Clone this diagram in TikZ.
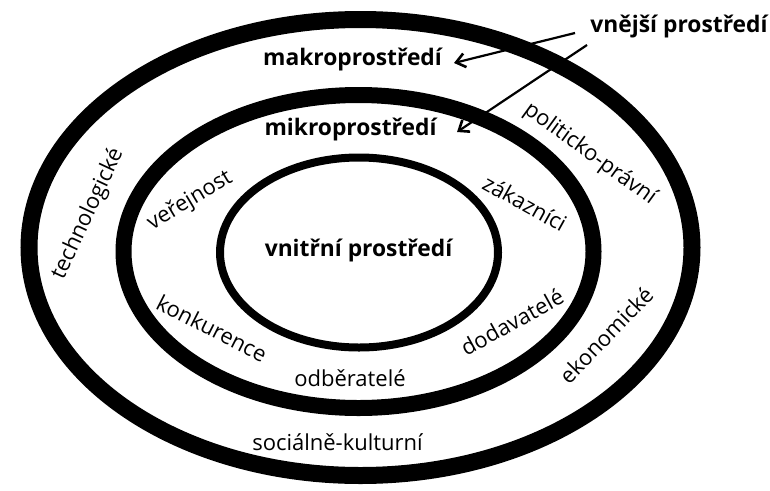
\documentclass[tikz,border=0pt]{standalone}
\usepackage{fontspec}
\setmainfont{Open Sans}
\usetikzlibrary{arrows.meta}
\begin{document}
\begin{tikzpicture}[x=1pt,y=-1pt,
  ring/.style={draw=black},
  bold/.style={font=\fontsize{22.8}{26}\selectfont\bfseries, inner sep=0pt, anchor=base},
  lab/.style={font=\fontsize{22}{26}\selectfont, inner sep=0pt},
  arr/.style={-{Straight Barb[length=9pt,width=14pt,line width=2.6pt]}, line width=2.2pt}]
\useasboundingbox (0,0) rectangle (770,490);
\fill[white] (0,0) rectangle (770,490);
% rings
\draw[ring, line width=17pt] (360.5,247.5) ellipse [x radius=331.5, y radius=228];
\draw[ring, line width=16pt] (358.5,251.5) ellipse [x radius=235, y radius=156.5];
\draw[ring, line width=8pt] (359,252.5) ellipse [x radius=139, y radius=95];
% bold labels
\node[bold] (vnejsi) at (679,32) {vnější prostředí};
\node[bold] (makro) at (352.5,65) {makroprostředí};
\node[bold] (mikro) at (350.5,135) {mikroprostředí};
\node[bold] (vnitrni) at (358.5,256) {vnitřní prostředí};
% arrows
\coordinate (s1) at (575,33);
\coordinate (t1) at (454,63);
\coordinate (s2) at (587,45);
\coordinate (t2) at (457,132);
\draw[arr] (s1) -- (t1);
\draw[arr] (s2) -- (t2);
% regular labels
\node[lab, anchor=base] (odb) at (350,386.5) {odběratelé};
\node[lab, anchor=base] (soc) at (337.5,450) {sociálně-kulturní};
\node[lab, rotate=65] (tech) at (88,214) {technologické};
\node[lab, rotate=31] (ver) at (190,201) {veřejnost};
\node[lab, rotate=-27] (konk) at (212,328) {konkurence};
\node[lab, rotate=-29] (zak) at (525,203) {zákazníci};
\node[lab, rotate=29] (dod) at (512,322) {dodavatelé};
\node[lab, rotate=46] (eko) at (606,335) {ekonomické};
\node[lab, rotate=-36] (pol) at (590,154) {politicko-právní};
\end{tikzpicture}
\end{document}
